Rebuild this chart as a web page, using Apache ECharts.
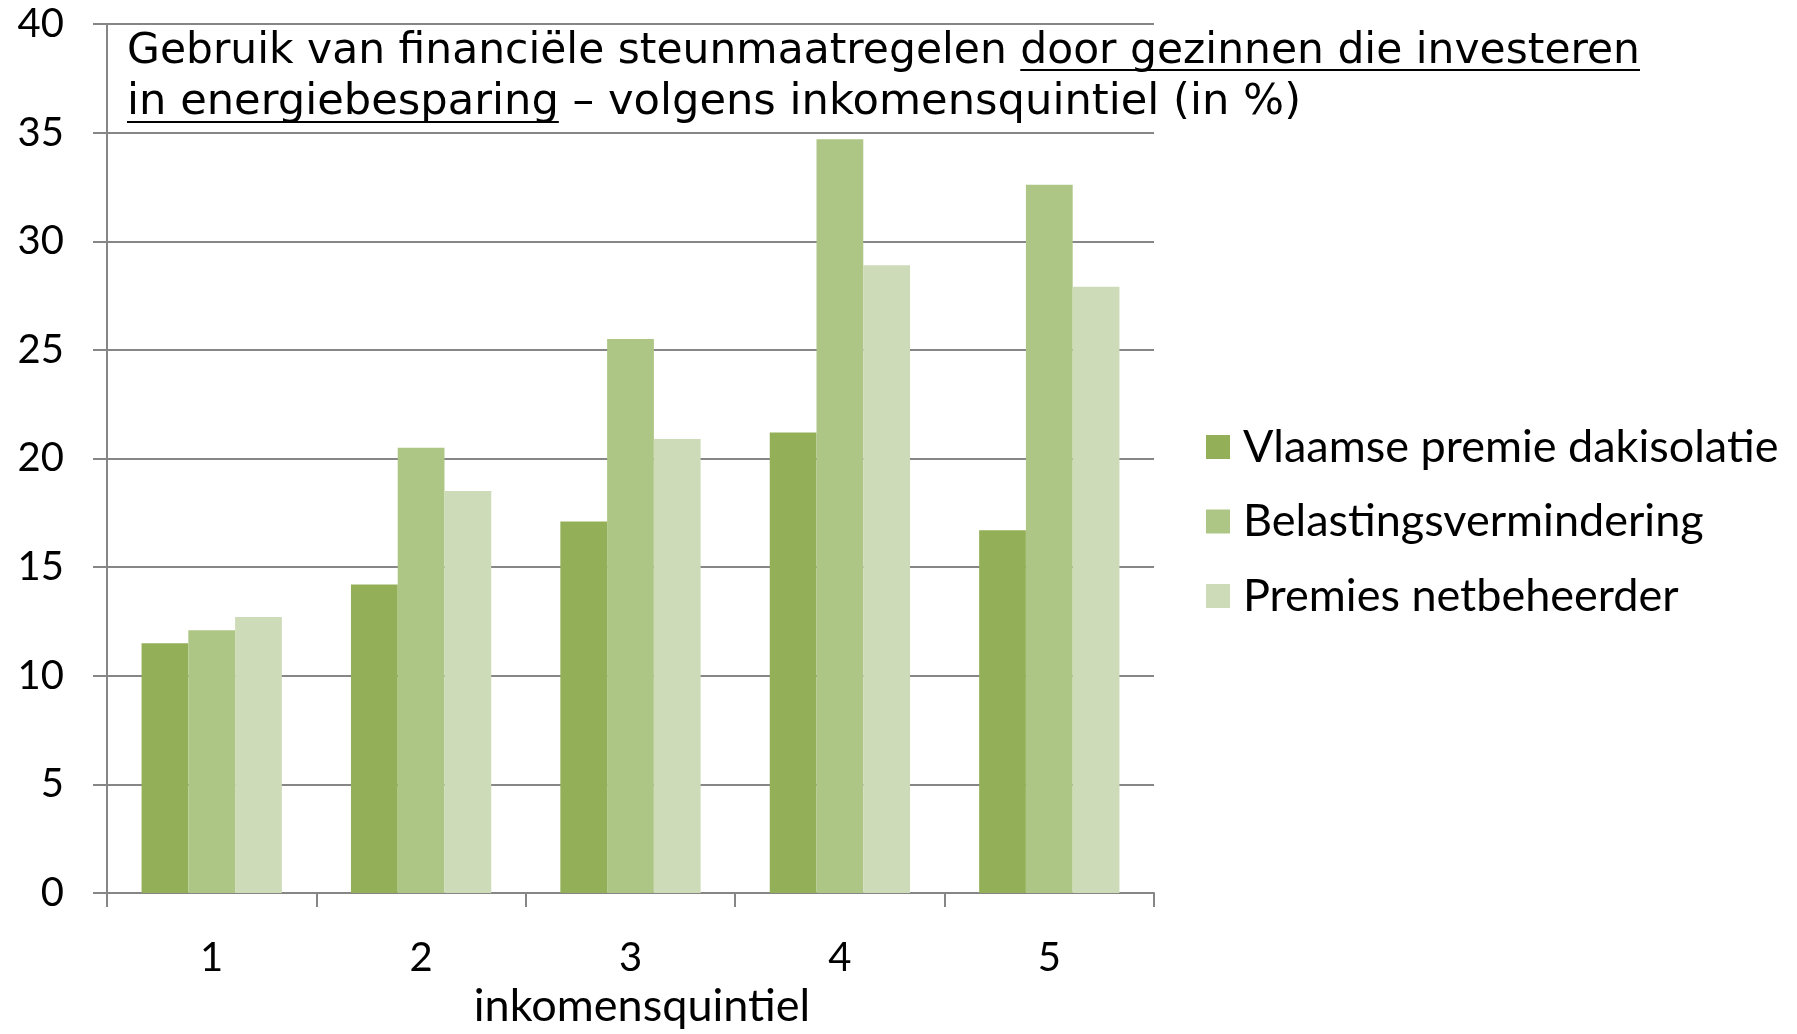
<!DOCTYPE html>
<html>
<head>
<meta charset="utf-8">
<script src="https://cdn.jsdelivr.net/npm/echarts@6/dist/echarts.min.js"></script>
<style>
  html, body { margin: 0; padding: 0; background: #fff; }
  #main { width: 1797px; height: 1034px; }
</style>
</head>
<body>
<div id="main"></div>
<script>
  // data
  var categories = ['1', '2', '3', '4', '5']
  var seriesNames = ['Vlaamse premie dakisolatie', 'Belastingsvermindering', 'Premies netbeheerder']
  var dakisolatie = [11.5, 14.2, 17.1, 21.2, 16.7]
  var belasting = [12.1, 20.5, 25.5, 34.7, 32.6]
  var netbeheerder = [12.7, 18.5, 20.9, 28.9, 27.9]
  var colors = ['#93AF57', '#AEC685', '#CEDBB8']

  var myChart = echarts.init(document.getElementById('main'))

  // titel: tekst + onderstreepte stukken, breedte gemeten met canvas
  var titleFont = '43px "DejaVu Sans"'
  var ctx = document.createElement('canvas').getContext('2d')
  ctx.font = titleFont
  function tw(s) { return ctx.measureText(s).width }

  var l1a = 'Gebruik van financiële steunmaatregelen '
  var l1b = 'door gezinnen die investeren'
  var l2a = 'in energiebesparing'
  var l2b = ' – volgens inkomensquintiel (in %)'
  var sx1 = 1513 / tw(l1a + l1b)
  var sx2 = 1174 / tw(l2a + l2b)
  var gray = '#868686'

  var option = {
      animation: false,
      grid: { left: 107, right: 643, top: 24, bottom: 140 },
      legend: {
          orient: 'vertical',
          left: 1201,
          top: 419,
          itemWidth: 24,
          itemHeight: 24,
          itemGap: 28.5,
          icon: 'rect',
          data: seriesNames,
          textStyle: { fontFamily: 'Lato', fontSize: 45, color: '#000', lineHeight: 46, padding: [0, 0, 0, 8] }
      },
      xAxis: {
          type: 'category',
          data: categories,
          name: 'inkomensquintiel',
          nameLocation: 'middle',
          nameGap: 91,
          nameTextStyle: { fontFamily: 'Lato', fontSize: 45, color: '#000', padding: [0, 0, 0, 23] },
          axisLine: { lineStyle: { color: gray, width: 2 } },
          axisTick: { show: true, length: 14, lineStyle: { color: gray, width: 2 } },
          axisLabel: { fontFamily: 'Lato', fontSize: 40, color: '#000', margin: 45 }
      },
      yAxis: {
          type: 'value',
          min: 0,
          max: 40,
          interval: 5,
          axisLine: { show: true, lineStyle: { color: gray, width: 2 } },
          axisTick: { show: true, length: 14, lineStyle: { color: gray, width: 2 } },
          axisLabel: { fontFamily: 'Lato', fontSize: 40, color: '#000', margin: 43 },
          splitLine: { lineStyle: { color: gray, width: 2 } }
      },
      graphic: [
          {
              type: 'group', x: 127, y: 0, scaleX: sx1,
              children: [
                  { type: 'text', x: 0, y: 52, style: { text: l1a + l1b, font: titleFont, fill: '#000', verticalAlign: 'middle' } },
                  { type: 'line', shape: { x1: tw(l1a), y1: 70, x2: tw(l1a + l1b), y2: 70 }, style: { stroke: '#000', lineWidth: 2 } }
              ]
          },
          {
              type: 'group', x: 127, y: 0, scaleX: sx2,
              children: [
                  { type: 'text', x: 0, y: 103, style: { text: l2a + l2b, font: titleFont, fill: '#000', verticalAlign: 'middle' } },
                  { type: 'line', shape: { x1: 0, y1: 122, x2: tw(l2a), y2: 122 }, style: { stroke: '#000', lineWidth: 2 } }
              ]
          }
      ],
      series: [
          { name: seriesNames[0], type: 'bar', data: dakisolatie, barGap: '0%', barCategoryGap: '33%', itemStyle: { color: colors[0] } },
          { name: seriesNames[1], type: 'bar', data: belasting, itemStyle: { color: colors[1] } },
          { name: seriesNames[2], type: 'bar', data: netbeheerder, itemStyle: { color: colors[2] } }
      ]
  }

  myChart.setOption(option)
</script>
</body>
</html>
